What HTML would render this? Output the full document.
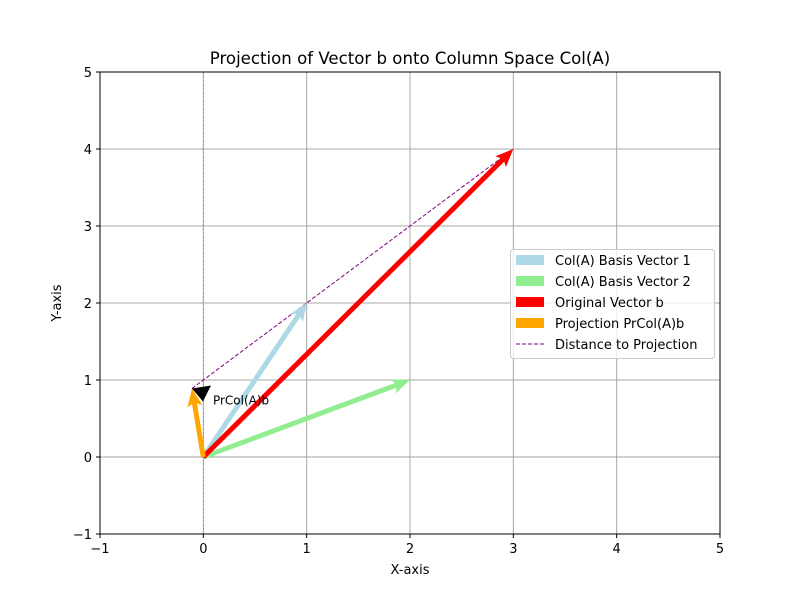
<!DOCTYPE html>
<html><head><meta charset="utf-8"><style>
html,body{margin:0;padding:0;background:#fff}
svg text{font-family:"DejaVu Sans","Liberation Sans",sans-serif;fill:#000}
</style></head><body>
<svg id="chart" width="800" height="600" xmlns="http://www.w3.org/2000/svg">
<rect width="800" height="600" fill="#fff"/>
<g id="grid"></g>
<g id="vecs"></g>
<rect x="100" y="72" width="620" height="462" fill="none" stroke="#000" stroke-width="1"/>
<g id="ticks"></g>
<text x="410" y="64" font-size="16.6" text-anchor="middle">Projection of Vector b onto Column Space Col(A)</text>
<text x="410" y="574" font-size="13" text-anchor="middle">X-axis</text>
<text x="61" y="303" font-size="13" text-anchor="middle" transform="rotate(-90 61 303)">Y-axis</text>
<g>
<rect x="510.5" y="249.5" width="204" height="109" rx="3" fill="#fff" fill-opacity="0.8" stroke="#ccc"/>
<rect x="516" y="255" width="28" height="10" fill="#add8e6"/>
<text x="555" y="265" font-size="13">Col(A) Basis Vector 1</text>
<rect x="516" y="276" width="28" height="10" fill="#90ee90"/>
<text x="555" y="286" font-size="13">Col(A) Basis Vector 2</text>
<rect x="516" y="297" width="28" height="10" fill="#ff0000"/>
<text x="555" y="307" font-size="13">Original Vector b</text>
<rect x="516" y="318" width="28" height="10" fill="#ffa500"/>
<text x="555" y="328" font-size="13">Projection PrCol(A)b</text>
<line x1="516" y1="344" x2="544" y2="344" stroke="#800080" stroke-width="1" stroke-dasharray="4,2"/>
<text x="555" y="349" font-size="13">Distance to Projection</text>
</g>
</svg>
<script>
const xTicks=[-1,0,1,2,3,4,5];
const yTicks=[-1,0,1,2,3,4,5];
const vecNames=['basis-1','basis-2','vector-b','projection'];
const vecX=[1,2,3,-0.11];
const vecY=[2,1,4,0.89];
const vecColors=['#add8e6','#90ee90','#ff0000','#ffa500'];
const projPoint=[-0.11,0.89];
const bPoint=[3,4];
const annotText='PrCol(A)b';
const NS='http://www.w3.org/2000/svg';
const sx=v=>100+(v+1)*620/6;
const sy=v=>534-(v+1)*462/6;
function mk(tag,attrs,parent){const e=document.createElementNS(NS,tag);for(const k in attrs)e.setAttribute(k,attrs[k]);parent.appendChild(e);return e;}
const grid=document.getElementById('grid'),ticks=document.getElementById('ticks'),vecs=document.getElementById('vecs');
xTicks.forEach(t=>{
 const l=mk('line',{x1:sx(t),x2:sx(t),y1:72,y2:534,stroke:'#a8a8a8','stroke-width':1},grid);
 
 
 mk('line',{x1:sx(t),x2:sx(t),y1:534,y2:538,stroke:'#000'},ticks);
 const tx=mk('text',{x:sx(t),y:553,'font-size':13,'text-anchor':'middle'},ticks);
 tx.textContent=t<0?'\u2212'+(-t):String(t);
 
 
});
yTicks.forEach(t=>{
 const l=mk('line',{x1:100,x2:720,y1:sy(t),y2:sy(t),stroke:'#a8a8a8','stroke-width':1},grid);
 
 
 mk('line',{x1:96,x2:100,y1:sy(t),y2:sy(t),stroke:'#000'},ticks);
 const tx=mk('text',{x:92,y:sy(t)+5,'font-size':13,'text-anchor':'end'},ticks);
 tx.textContent=t<0?'\u2212'+(-t):String(t);
 
 
});
const hz=mk('line',{x1:100,x2:720,y1:sy(0),y2:sy(0),stroke:'#808080','stroke-width':0.6,'stroke-dasharray':'2,2'},grid);


const vz=mk('line',{x1:sx(0),x2:sx(0),y1:72,y2:534,stroke:'#808080','stroke-width':0.6,'stroke-dasharray':'2,2'},grid);


const dl=mk('line',{x1:sx(projPoint[0]),y1:sy(projPoint[1]),x2:sx(bPoint[0]),y2:sy(bPoint[1]),stroke:'#800080','stroke-width':1,'stroke-dasharray':'4,2'},vecs);


function arrow(x0,y0,x1,y1,color,w,hl,hw){
 const dx=x1-x0,dy=y1-y0,L=Math.hypot(dx,dy),ux=dx/L,uy=dy/L,px=-uy,py=ux;
 const bx=x1-ux*hl,by=y1-uy*hl,nx=x1-ux*hl*0.85,ny=y1-uy*hl*0.85;
 const pts=[[x0+px*w/2,y0+py*w/2],[nx+px*w/2,ny+py*w/2],[bx+px*hw/2,by+py*hw/2],[x1,y1],[bx-px*hw/2,by-py*hw/2],[nx-px*w/2,ny-py*w/2],[x0-px*w/2,y0-py*w/2]];
 return {points:pts.map(p=>p[0].toFixed(1)+','+p[1].toFixed(1)).join(' '),fill:color};
}
vecX.forEach((vx,i)=>{
 const a=arrow(sx(0),sy(0),sx(vx),sy(vecY[i]),vecColors[i],5,18,15);
 const p=mk('polygon',a,vecs);
 
 
});
const tx0=sx(projPoint[0]),ty0=sy(projPoint[1]);
const ah=mk('polygon',{points:`${tx0},${ty0} ${tx0+19},${ty0-3} ${tx0+11},${ty0+13}`,fill:'#000'},vecs);


const at=mk('text',{x:tx0+21,y:ty0+16,'font-size':12},vecs);
at.textContent=annotText;


</script>
</body></html>
